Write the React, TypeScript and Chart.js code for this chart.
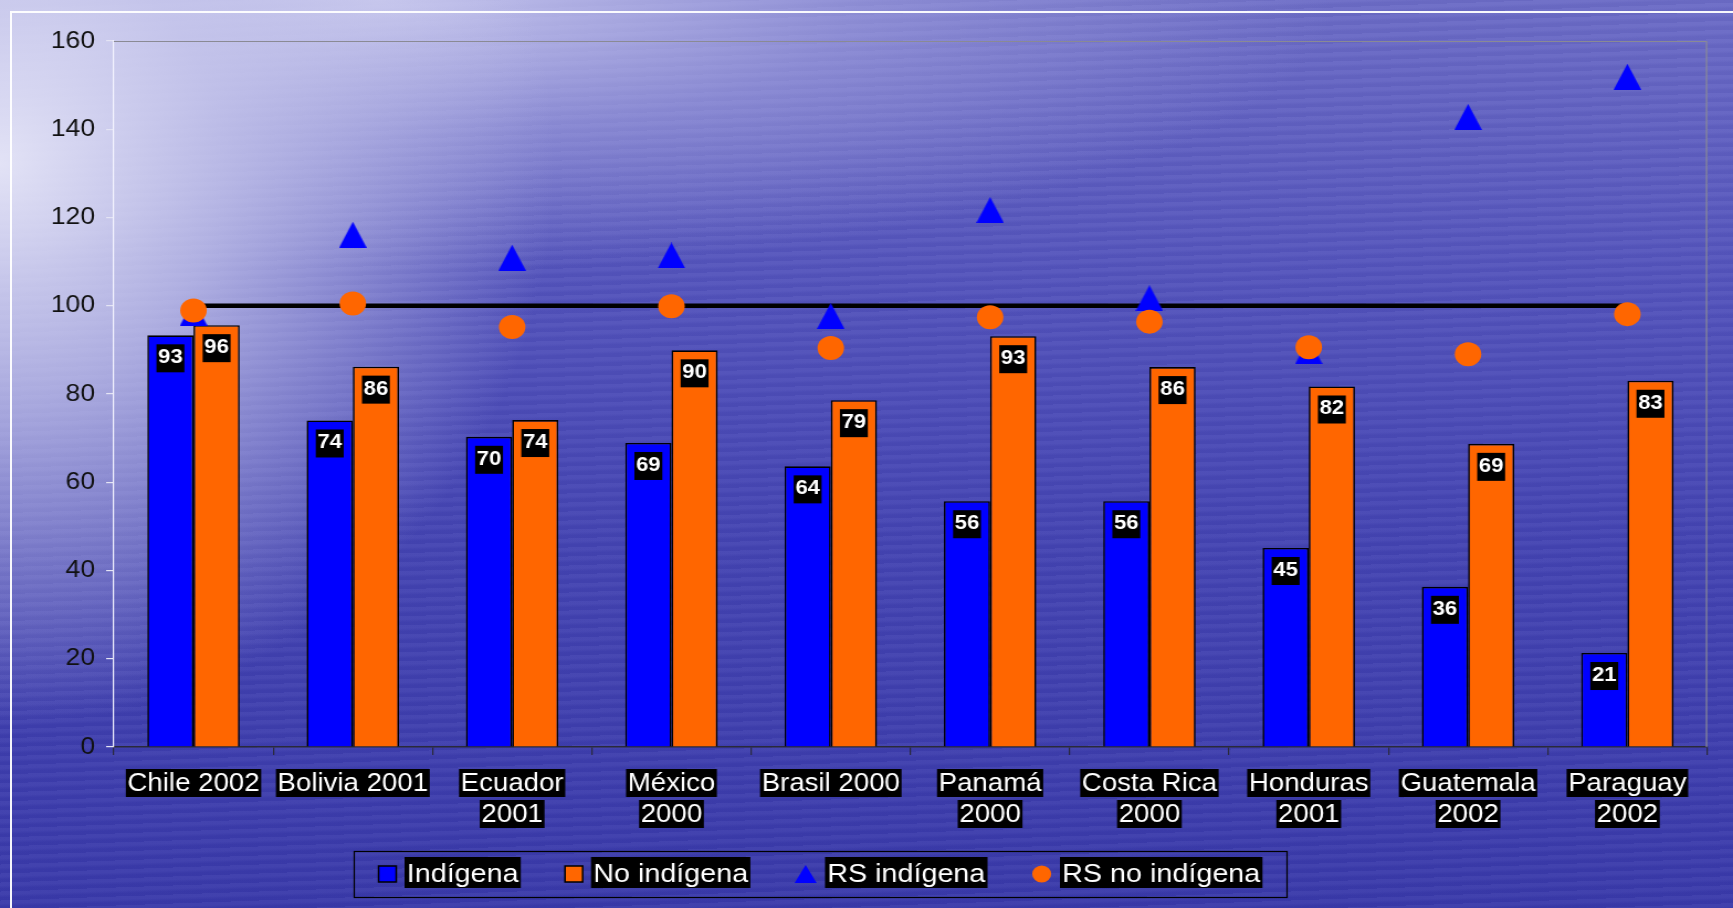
import React, { useEffect, useRef } from "react";
import { Chart, registerables } from "chart.js";

Chart.register(...registerables);

// ---------- data ----------
const categories: string[][] = [
  ["Chile 2002"],
  ["Bolivia 2001"],
  ["Ecuador", "2001"],
  ["México", "2000"],
  ["Brasil 2000"],
  ["Panamá", "2000"],
  ["Costa Rica", "2000"],
  ["Honduras", "2001"],
  ["Guatemala", "2002"],
  ["Paraguay", "2002"],
];
const indigena = [93.3, 74, 70.3, 68.9, 63.6, 55.7, 55.7, 45.1, 36.3, 21.3];
const noIndigena = [95.6, 86.2, 74.1, 89.9, 78.6, 93.1, 86.1, 81.7, 68.7, 83];
const rsIndigena = [98.4, 116.1, 110.9, 111.4, 97.7, 121.7, 101.7, 89.7, 142.8, 151.9];
const rsNoIndigena = [98.9, 100.5, 95.2, 99.9, 90.4, 97.4, 96.4, 90.6, 89.0, 98.1];
const referenceLine = [100, 100, 100, 100, 100, 100, 100, 100, 100, 100];
const yMin = 0;
const yMax = 160;
const yStep = 20;
const seriesNames = ["Indígena", "No indígena", "RS indígena", "RS no indígena"];

// ---------- geometry (canvas is drawn at 1568 px and stretched to 1733 px) ----------
const CW = 1568;
const CH = 908;
const FONT = '"Liberation Sans", Arial, sans-serif';
const BLUE = "#0000ff";
const ORANGE = "#ff6600";

function makeTriangle(w: number, h: number, color: string) {
  const c = document.createElement("canvas");
  c.width = w;
  c.height = h;
  const g = c.getContext("2d")!;
  g.fillStyle = color;
  g.beginPath();
  g.moveTo(w / 2, 0);
  g.lineTo(w, h);
  g.lineTo(0, h);
  g.closePath();
  g.fill();
  return c;
}

const areaFramePlugin = {
  id: "areaFrame",
  beforeDatasetsDraw(chart: any) {
    const { ctx, chartArea: a } = chart;
    ctx.save();
    ctx.strokeStyle = "#8a8a94";
    ctx.lineWidth = 1.2;
    ctx.beginPath();
    ctx.moveTo(a.left, a.top + 0.5);
    ctx.lineTo(a.right - 0.5, a.top + 0.5);
    ctx.lineTo(a.right - 0.5, a.bottom);
    ctx.stroke();
    ctx.restore();
  },
};

const barLabelPlugin = {
  id: "barLabels",
  afterDatasetsDraw(chart: any) {
    const { ctx } = chart;
    ctx.save();
    ctx.font = `bold 20px ${FONT}`;
    ctx.textAlign = "center";
    ctx.textBaseline = "alphabetic";
    [0, 1].forEach((di) => {
      const meta = chart.getDatasetMeta(di);
      meta.data.forEach((el: any, i: number) => {
        const v = chart.data.datasets[di].data[i] as number;
        const t = String(Math.round(v));
        const w = ctx.measureText(t).width + 3;
        ctx.fillStyle = "#000";
        ctx.fillRect(el.x - w / 2, el.y + 9, w, 28);
        ctx.fillStyle = "#fff";
        ctx.fillText(t, el.x, el.y + 28);
      });
    });
    ctx.restore();
  },
};

const xLabelPlugin = {
  id: "xLabels",
  afterDraw(chart: any) {
    const { ctx } = chart;
    const xs = chart.scales.x;
    ctx.save();
    ctx.font = `25px ${FONT}`;
    ctx.textAlign = "center";
    ctx.textBaseline = "alphabetic";
    (chart.data.labels as string[][]).forEach((lines, i) => {
      const x = xs.getPixelForValue(i);
      lines.forEach((line, j) => {
        const base = 791 + 31 * j;
        const w = ctx.measureText(line).width + 3;
        ctx.fillStyle = "#000";
        ctx.fillRect(x - w / 2, base - 22, w, 28);
        ctx.fillStyle = "#fff";
        ctx.fillText(line, x, base);
      });
    });
    ctx.restore();
  },
};

const legendPlugin = {
  id: "boxLegend",
  afterDraw(chart: any) {
    const { ctx } = chart;
    const left = 320.5;
    const top = 851.5;
    const right = 1164.5;
    const bottom = 897.5;
    ctx.save();
    ctx.strokeStyle = "#000";
    ctx.lineWidth = 1.2;
    ctx.strokeRect(left, top, right - left, bottom - top);
    ctx.font = `26px ${FONT}`;
    ctx.textBaseline = "alphabetic";
    ctx.textAlign = "left";
    let x = left + 22;
    const midY = 874;
    chart.data.datasets.slice(0, 4).forEach((ds: any, i: number) => {
      let mw = 16;
      if (i < 2) {
        mw = 16;
        ctx.fillStyle = ds.backgroundColor;
        ctx.fillRect(x, midY - 8, 16, 16);
        ctx.strokeStyle = "#000";
        ctx.lineWidth = 1.5;
        ctx.strokeRect(x, midY - 8, 16, 16);
      } else if (i === 2) {
        mw = 20;
        ctx.fillStyle = BLUE;
        ctx.beginPath();
        ctx.moveTo(x + 10, midY - 9);
        ctx.lineTo(x + 20, midY + 9);
        ctx.lineTo(x, midY + 9);
        ctx.closePath();
        ctx.fill();
      } else {
        mw = 18;
        ctx.fillStyle = ORANGE;
        ctx.beginPath();
        ctx.arc(x + 9, midY, 8.6, 0, Math.PI * 2);
        ctx.fill();
      }
      x += mw + 7.5;
      const label = ds.label as string;
      const tw = ctx.measureText(label).width + 4;
      ctx.fillStyle = "#000";
      ctx.fillRect(x, 857, tw, 31);
      ctx.fillStyle = "#fff";
      ctx.fillText(label, x + 2, 882);
      x += tw + 40;
    });
    ctx.restore();
  },
};

export default function App() {
  const canvasRef = useRef<HTMLCanvasElement | null>(null);

  useEffect(() => {
    if (!canvasRef.current) return;
    const tri = makeTriangle(25, 26, BLUE);
    const chart = new Chart(canvasRef.current, {
      type: "bar",
      data: {
        labels: categories as any,
        datasets: [
          {
            type: "bar",
            label: seriesNames[0],
            data: indigena,
            backgroundColor: BLUE,
            borderColor: "#000",
            borderWidth: 1.6,
            order: 3,
            categoryPercentage: 0.58,
            barPercentage: 1,
          } as any,
          {
            type: "bar",
            label: seriesNames[1],
            data: noIndigena,
            backgroundColor: ORANGE,
            borderColor: "#000",
            borderWidth: 1.6,
            order: 4,
            categoryPercentage: 0.58,
            barPercentage: 1,
          } as any,
          {
            type: "line",
            label: seriesNames[2],
            data: rsIndigena,
            showLine: false,
            pointStyle: tri,
            pointRadius: 13,
            backgroundColor: BLUE,
            borderColor: BLUE,
            order: 1,
          } as any,
          {
            type: "line",
            label: seriesNames[3],
            data: rsNoIndigena,
            showLine: false,
            pointStyle: "circle",
            pointRadius: 12,
            pointBorderWidth: 0,
            backgroundColor: ORANGE,
            borderColor: ORANGE,
            order: 0,
          } as any,
          {
            type: "line",
            label: "100",
            data: referenceLine,
            borderColor: "#000",
            borderWidth: 4.5,
            pointRadius: 0,
            fill: false,
            order: 2,
          } as any,
        ],
      },
      options: {
        responsive: false,
        animation: false,
        devicePixelRatio: 1,
        layout: { padding: { left: 0, top: 41, right: 23.5, bottom: 0 } },
        plugins: {
          legend: { display: false },
          tooltip: { enabled: false },
        },
        scales: {
          x: {
            type: "category",
            offset: true,
            grid: {
              offset: true,
              drawOnChartArea: false,
              drawTicks: true,
              tickLength: 8,
              color: "#2a2a3a",
              lineWidth: 1.2,
            },
            border: { color: "#2a2a3a", width: 1.5 },
            ticks: { display: false },
            afterFit: (s: any) => {
              s.height = CH - 747;
            },
          },
          y: {
            min: yMin,
            max: yMax,
            ticks: {
              stepSize: yStep,
              color: "#111",
              font: { family: FONT, size: 24 },
              padding: 10,
            },
            grid: {
              drawOnChartArea: false,
              drawTicks: true,
              tickLength: 7,
              color: "#e4e4f4",
              lineWidth: 1.2,
            },
            border: { color: "#f4f4ff", width: 1.2 },
            afterFit: (s: any) => {
              s.width = 103;
            },
          },
        },
      } as any,
      plugins: [areaFramePlugin, barLabelPlugin, xLabelPlugin, legendPlugin],
    });
    return () => chart.destroy();
  }, []);

  return (
    <div
      style={{
        position: "fixed",
        left: 0,
        top: 0,
        width: 1733,
        height: 908,
        overflow: "hidden",
        background:
          "radial-gradient(ellipse 32% 62% at 0% 18%, rgba(232,232,248,0.95) 0%, rgba(205,205,238,0.75) 40%, rgba(170,170,225,0) 100%)," +
          "radial-gradient(ellipse 55% 30% at 22% 0%, rgba(205,205,240,0.9) 0%, rgba(175,175,228,0.5) 50%, rgba(150,150,220,0) 100%)," +
          "repeating-linear-gradient(178deg, rgba(255,255,255,0.035) 0px, rgba(255,255,255,0.035) 3px, rgba(0,0,60,0.03) 6px, rgba(0,0,60,0.03) 9px)," +
          "linear-gradient(180deg, #6c6cc6 0%, #5454bc 30%, #4444b2 60%, #3a3aaa 100%)",
      }}
    >
      <div
        style={{
          position: "absolute",
          left: 10,
          top: 11,
          width: 1760,
          height: 930,
          borderTop: "2px solid rgba(255,255,255,0.95)",
          borderLeft: "2px solid rgba(255,255,255,0.95)",
        }}
      />
      <canvas
        ref={canvasRef}
        width={CW}
        height={CH}
        style={{
          position: "absolute",
          left: 0,
          top: 0,
          width: "1733px",
          height: "908px",
          display: "block",
        }}
      />
    </div>
  );
}
